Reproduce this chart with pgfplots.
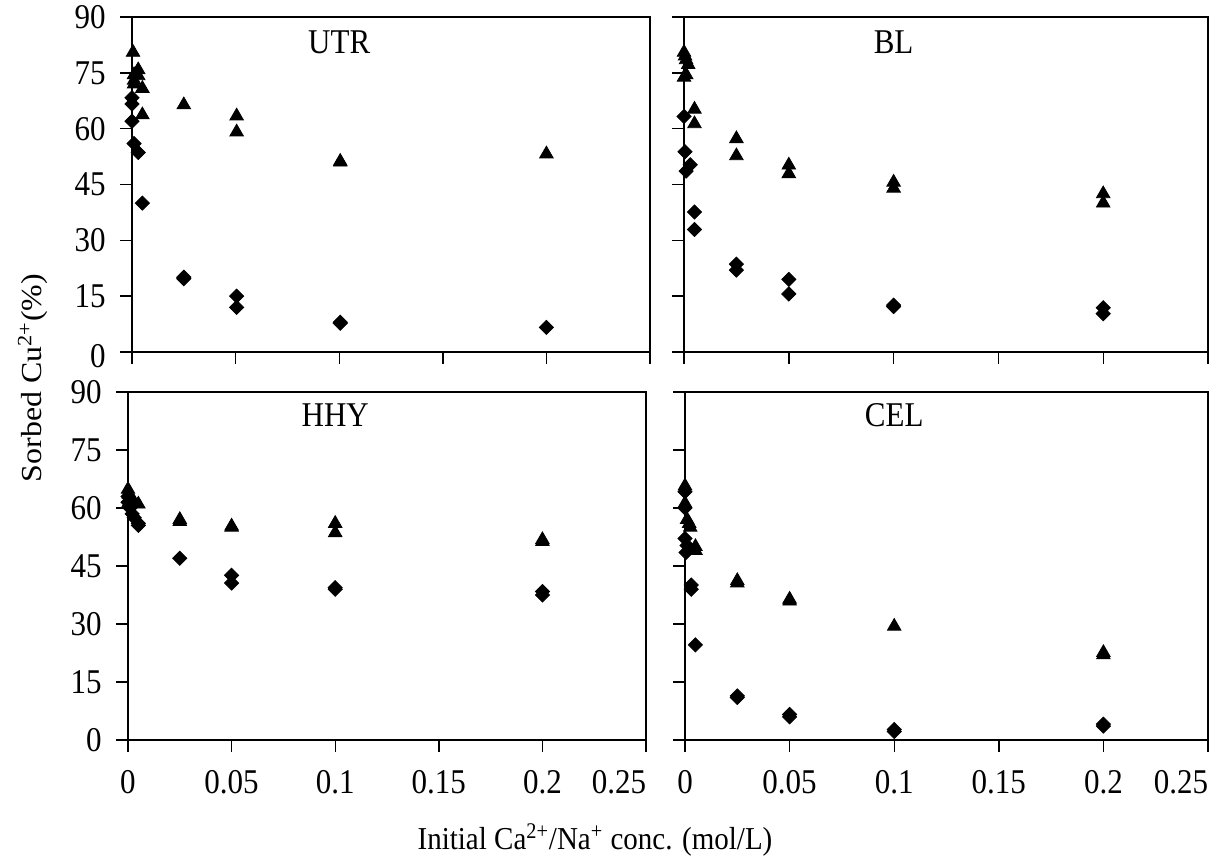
\documentclass[border=0pt]{standalone}
\usepackage{fontspec}
\setmainfont{Liberation Serif}
\usepackage{pgfplots}
\pgfplotsset{compat=1.18}

\pgfplotsset{
  panel/.style={
    scale only axis,
    xmin=0, xmax=0.25, ymin=0, ymax=90,
    xtick={0,0.05,0.1,0.15,0.2,0.25},
    ytick={0,15,30,45,60,75,90},
    tick align=outside,
    xtick pos=left, ytick pos=left,
    major tick length=6pt,
    axis line style={line width=1.3pt},
    every tick/.style={black, line width=0.7pt},
    tick label style={font=\fontsize{15.5}{18}\selectfont, yscale=1.12, inner sep=1pt},
    xticklabel style={yshift=-7pt},
    yticklabel style={xshift=-6pt},
    clip=false,
  },
  tri/.style={only marks, black, mark=triangle*, mark size=3.9pt},
  dia/.style={only marks, black, mark=square*, mark size=2.5pt, mark options={rotate=45}},
  nolabx/.style={xticklabels={}},
  labx/.style={xticklabels={0,0.05,0.1,0.15,0.2,\makebox[0pt][r]{0.25}}},
  noly/.style={yticklabels={}},
  laby/.style={yticklabels={0,15,30,45,60,75,90}},
  labytop/.style={yticklabels={\raisebox{-7pt}[0pt][0pt]{0},15,30,45,60,75,90}},
}

\begin{document}
\begin{tikzpicture}
\path[use as bounding box] (0,0) rectangle (615pt,430.5pt);

% ---------- UTR ----------
\begin{axis}[panel, nolabx, labytop, at={(66pt,254.5pt)}, anchor=south west,
  width=259pt, height=167.5pt]
\addplot[tri] coordinates {
(0.0005,80.5) (0.0010,74.5) (0.0010,73.0) (0.0010,72.0) (0.0030,75.8) (0.0030,74.2)
(0.0050,70.8) (0.0050,63.7) (0.0250,66.4) (0.0505,63.4) (0.0505,59.1)
(0.1005,51.2) (0.1005,51.0) (0.2000,53.2)};
\addplot[dia] coordinates {
(0.0000,68.3) (0.0000,66.6) (0.0000,62.0) (0.0010,56.0) (0.0030,53.6) (0.0050,40.0)
(0.0250,20.1) (0.0250,19.7) (0.0505,15.0) (0.0505,12.0) (0.1005,8.0) (0.1005,7.7)
(0.2000,6.6)};
\node[font=\fontsize{15.5}{18}\selectfont, yscale=1.12] at (axis cs:0.1,83.3) {UTR};
\end{axis}

% ---------- BL ----------
\begin{axis}[panel, nolabx, noly, at={(342pt,254.5pt)}, anchor=south west,
  width=262pt, height=167.5pt]
\addplot[tri] coordinates {
(0.0000,80.5) (0.0005,79.5) (0.0010,78.5) (0.0020,77.2) (0.0000,73.8) (0.0010,74.5)
(0.0050,65.2) (0.0050,61.3) (0.0250,57.3) (0.0250,52.7) (0.0500,50.2) (0.0500,47.9)
(0.1000,45.6) (0.1000,44.0) (0.2000,42.5) (0.2000,40.0)};
\addplot[dia] coordinates {
(0.0000,63.3) (0.0005,53.8) (0.0030,50.3) (0.0010,48.6) (0.0050,37.6) (0.0050,32.9)
(0.0250,23.6) (0.0250,22.0) (0.0500,19.5) (0.0500,15.6) (0.1000,12.6) (0.1000,12.2)
(0.2000,11.9) (0.2000,10.3)};
\node[font=\fontsize{15.5}{18}\selectfont, yscale=1.12] at (axis cs:0.1,83.3) {BL};
\end{axis}

% ---------- HHY ----------
\begin{axis}[panel, labx, laby, at={(64pt,60.5pt)}, anchor=south west,
  width=259pt, height=174pt]
\addplot[tri] coordinates {
(0.0000,64.8) (0.0005,63.5) (0.0010,62.5) (0.0020,62.0) (0.0030,61.5) (0.0050,61.0)
(0.0000,61.0) (0.0250,57.0) (0.0250,56.5) (0.0500,55.3) (0.0500,55.0)
(0.1000,56.0) (0.1000,53.6) (0.2000,51.8) (0.2000,51.3)};
\addplot[dia] coordinates {
(0.0000,63.0) (0.0000,61.5) (0.0010,60.0) (0.0020,58.5) (0.0030,57.5) (0.0050,56.0)
(0.0050,55.5) (0.0250,47.0) (0.0500,42.6) (0.0500,40.6) (0.1000,39.4) (0.1000,39.0)
(0.2000,38.4) (0.2000,37.5)};
\node[font=\fontsize{15.5}{18}\selectfont, yscale=1.12] at (axis cs:0.1,84) {HHY};
\end{axis}

% ---------- CEL ----------
\begin{axis}[panel, labx, noly, at={(342.5pt,60.5pt)}, anchor=south west,
  width=261.5pt, height=174pt]
\addplot[tri] coordinates {
(0.0000,65.7) (0.0000,61.2) (0.0010,57.0) (0.0020,56.0) (0.0025,55.0) (0.0050,50.0)
(0.0050,49.0) (0.0250,41.2) (0.0250,40.6) (0.0500,36.4) (0.0500,35.9)
(0.1000,29.4) (0.2000,22.6) (0.2000,22.0)};
\addplot[dia] coordinates {
(0.0000,64.2) (0.0000,60.0) (0.0000,52.1) (0.0010,50.3) (0.0005,48.5) (0.0030,40.1)
(0.0030,39.0) (0.0050,24.6) (0.0250,11.4) (0.0250,11.0) (0.0500,6.6) (0.0500,6.0)
(0.1000,2.7) (0.1000,2.2) (0.2000,4.1) (0.2000,3.6)};
\node[font=\fontsize{15.5}{18}\selectfont, yscale=1.12] at (axis cs:0.1,84) {CEL};
\end{axis}

\node[rotate=90, font=\fontsize{14.5}{17}\selectfont, xscale=1.1] at (16.5pt,241.5pt) {Sorbed Cu\textsuperscript{2+}(\%)};
\node[font=\fontsize{14.5}{17}\selectfont, yscale=1.1] at (297.5pt,10.5pt) {Initial Ca\textsuperscript{2+}/Na\textsuperscript{+} conc. (mol/L)};
\end{tikzpicture}
\end{document}
